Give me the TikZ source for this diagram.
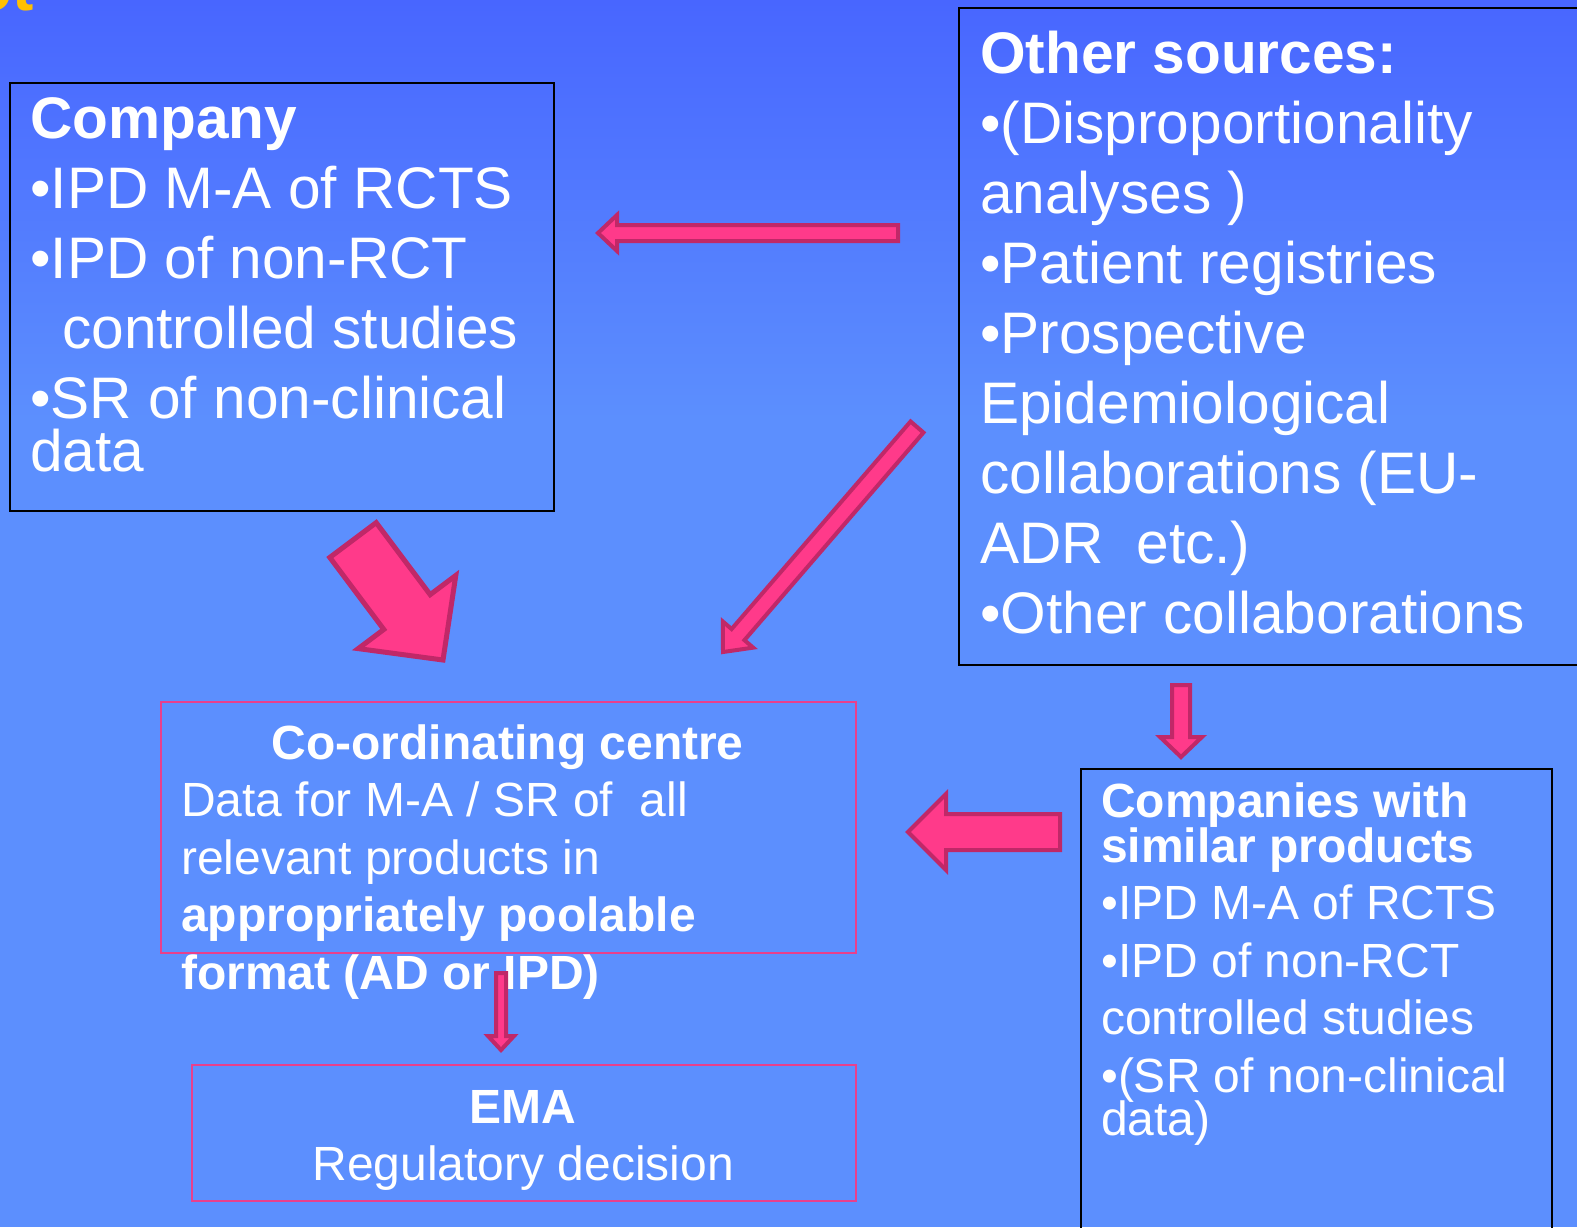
\documentclass[tikz,border=0pt]{standalone}
\usepackage{fontspec}
\setmainfont{Liberation Sans}
\usepackage{xcolor}
\usepackage{tikz}
\usetikzlibrary{calc}

\definecolor{skytop}{RGB}{72,102,255}
\definecolor{skyblue}{RGB}{92,143,254}
\definecolor{arrowpink}{RGB}{255,58,138}
\definecolor{arrowrim}{RGB}{192,40,104}
\definecolor{boxpink}{RGB}{232,64,140}
\definecolor{titleyellow}{RGB}{255,192,0}

\newcommand{\srcfont}{\fontsize{58.6}{70}\selectfont}
\newcommand{\ctrfont}{\fontsize{48}{57.5}\selectfont}

% block arrow: [rim width]{tail}{tip}{half shaft}{half head}{head length}
\newcommand{\blockarrow}[6][4pt]{%
  \path ($(#3)!#6!(#2)$) coordinate (neck);
  \draw[blockarr, line width=#1]
    ($(#2)!#4!90:(#3)$) -- ($(neck)!#4!-90:(#2)$) -- ($(neck)!#5!-90:(#2)$) -- (#3)
    -- ($(neck)!#5!90:(#2)$) -- ($(neck)!#4!90:(#2)$) -- ($(#2)!#4!-90:(#3)$) -- cycle;
}

\tikzset{
  srcbox/.style={rectangle, draw=black, line width=2pt, anchor=north west, inner sep=0pt},
  ctrbox/.style={rectangle, draw=boxpink, line width=2pt, anchor=north west, inner sep=0pt},
  boxtext/.style={anchor=base west, inner sep=0pt, text=white},
  blockarr/.style={fill=arrowpink, draw=arrowrim, line join=miter},
}

\begin{document}
\begin{tikzpicture}[x=1pt,y=-1pt]

    \useasboundingbox (0,0) rectangle (1577,1227);
    \fill[top color=skytop, bottom color=skyblue] (0,0) rectangle (1577,420);
    \fill[skyblue] (0,419) rectangle (1577,1227);

    \node[anchor=base east,
          inner sep=0pt,
          text=titleyellow,
          font=\fontsize{64}{70}\selectfont\bfseries
          ] (title) at (34,10) {ot};

    %boxes
    \node[srcbox,
          minimum width=544,
          minimum height=428
          ] (company) at (9,82) {};
    \node[srcbox,
          minimum width=660,
          minimum height=657
          ] (others) at (958,7) {};
    \node[ctrbox,
          minimum width=695,
          minimum height=251
          ] (centre) at (160,701) {};
    \node[ctrbox,
          minimum width=664,
          minimum height=136
          ] (ema) at (191,1064) {};
    \node[srcbox,
          minimum width=471,
          minimum height=500
          ] (peers) at (1080,768) {};

    %texts
    \node[boxtext] (companytext) at ([shift={(21,56)}]company.north west)
    {\parbox[t]{530pt}{\srcfont\raggedright
      \textbf{Company}\\
      •IPD M-A of RCTS\\
      •IPD of non-RCT\\
      \hspace*{32pt}controlled studies\\
      •SR of non-clinical\\[-17pt]
      data}};

    \node[boxtext] (otherstext) at ([shift={(22,66)}]others.north west)
    {\parbox[t]{620pt}{\srcfont\raggedright
      \textbf{Other sources:}\\
      •(Disproportionality\\
      analyses )\\
      •Patient registries\\
      •Prospective\\
      Epidemiological\\
      collaborations (EU-\\
      ADR\ \ etc.)\\
      •Other collaborations}};

    \node[boxtext] (centretext) at ([shift={(21,58)}]centre.north west)
    {\parbox[t]{653pt}{\ctrfont
      {\centering\textbf{Co-ordinating centre}\par}
      \raggedright Data for M-A / SR of\ \ all\\
      relevant products in\\
      \textbf{appropriately poolable}\\
      \textbf{format (AD or IPD)}}};

    \node[boxtext] (ematext) at ([shift={(0,59)}]ema.north west)
    {\parbox[t]{664pt}{\ctrfont\centering
      \textbf{EMA}\\
      Regulatory decision}};

    \node[boxtext] (peerstext) at ([shift={(21,49)}]peers.north west)
    {\parbox[t]{450pt}{\ctrfont\raggedright
      \textbf{Companies with}\\[-12.5pt]
      \textbf{similar products}\\
      •IPD M-A of RCTS\\
      •IPD of non-RCT\\
      controlled studies\\
      •(SR of non-clinical\\[-14.5pt]
      data)}};

    %arrows
    \coordinate (othersleft) at (898,233);
    \coordinate (companyright) at (598,233);
    \coordinate (companyfoot) at (353,540);
    \coordinate (centretop) at (443,660);
    \coordinate (othersfoot) at (917,427);
    \coordinate (centrecorner) at (723,652);
    \coordinate (othersbottom) at (1181,685);
    \coordinate (peerstop) at (1181,757);
    \coordinate (peersleft) at (1060,832);
    \coordinate (centreright) at (908,832);
    \coordinate (centrebottom) at (501,973);
    \coordinate (ematop) at (501,1050);

    \blockarrow{othersleft}{companyright}{8pt}{18pt}{19pt}
    \blockarrow[5pt]{companyfoot}{centretop}{29pt}{61pt}{60pt}
    \blockarrow{othersfoot}{centrecorner}{8.5pt}{20pt}{23pt}
    \blockarrow{othersbottom}{peerstop}{9pt}{21pt}{20pt}
    \blockarrow{peersleft}{centreright}{18pt}{38pt}{38pt}
    \blockarrow{centrebottom}{ematop}{5pt}{13pt}{14pt}

\end{tikzpicture}
\end{document}
